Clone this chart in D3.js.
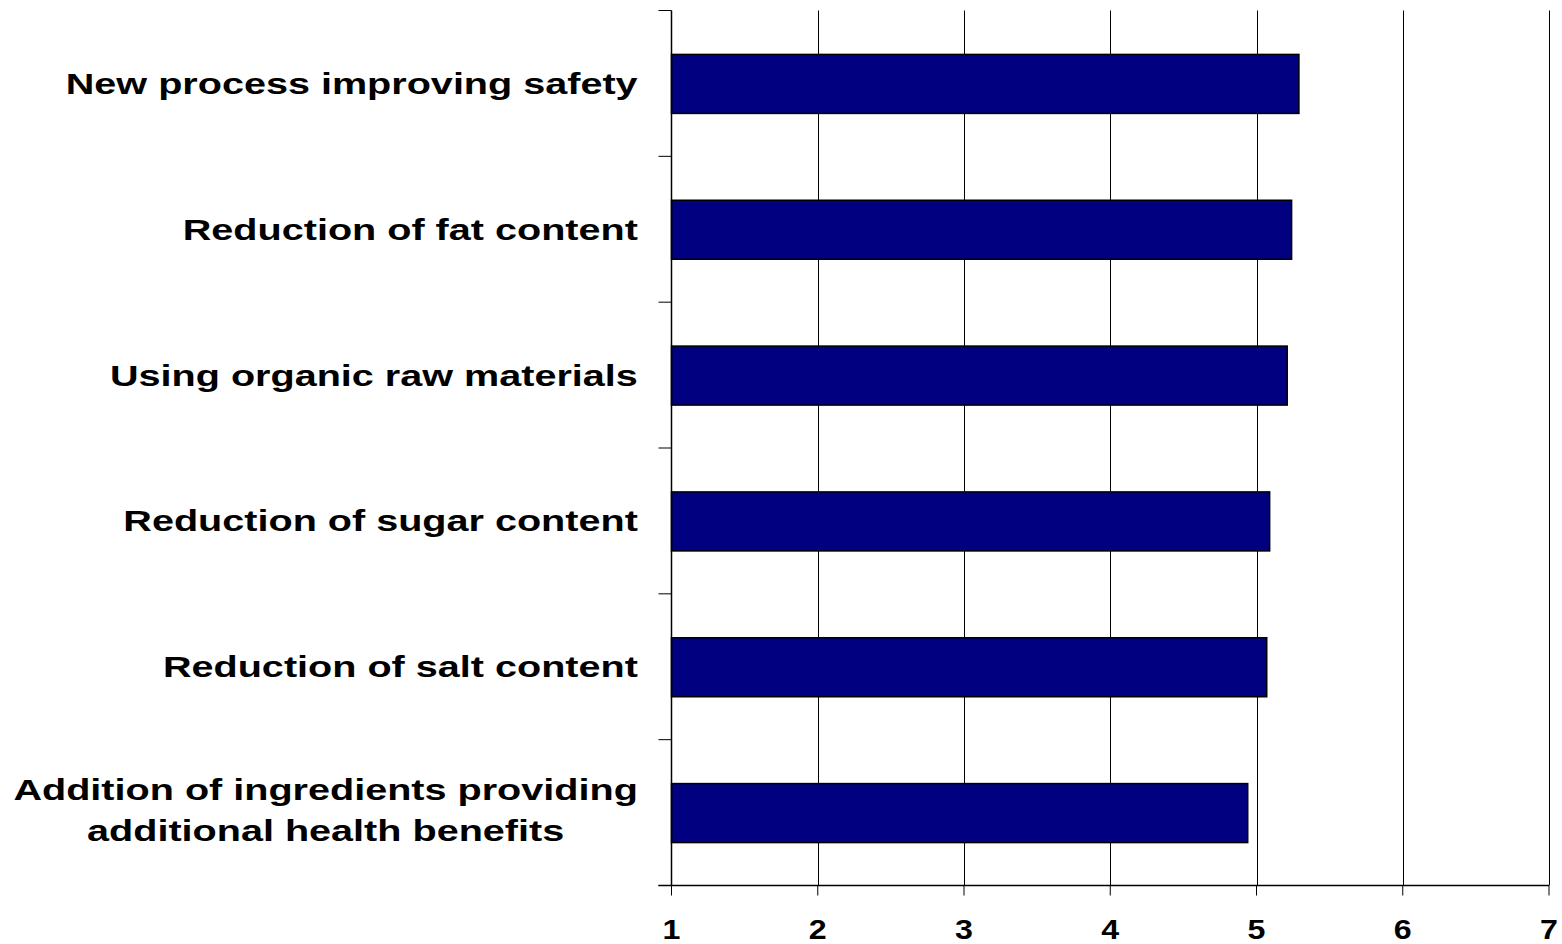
<!DOCTYPE html>
<html>
<head>
<meta charset="utf-8">
<script src="https://cdn.jsdelivr.net/npm/d3@7"></script>
<style>
  html, body { margin: 0; padding: 0; background: #fff; }
  svg { display: block; }
  text { font-family: "Liberation Sans", Arial, sans-serif; font-weight: bold; fill: #000; }
</style>
</head>
<body>
<svg id="chart" width="1562" height="944"></svg>
<script>
const categories = [
  ["New process improving safety"],
  ["Reduction of fat content"],
  ["Using organic raw materials"],
  ["Reduction of sugar content"],
  ["Reduction of salt content"],
  ["Addition of ingredients providing", "additional health benefits"]
];
const values = [5.29, 5.24, 5.21, 5.09, 5.07, 4.94];
const xTicks = [1, 2, 3, 4, 5, 6, 7];

(function () {
const svg = d3.select("#chart");
const pLeft = 671.5, pRight = 1549, pTop = 10.5, pBottom = 885.5;
const sx = 1.32; // horizontal stretch of label text in the reference

const x = d3.scaleLinear().domain([1, 7]).range([pLeft, pRight]);
const yOuter = d3.scaleBand().domain(d3.range(categories.length)).range([pTop, pBottom]);

// gridlines
svg.append("g").selectAll("line").data(xTicks.slice(1)).join("line")
  .attr("x1", d => Math.round(x(d)) + 0.5).attr("x2", d => Math.round(x(d)) + 0.5)
  .attr("y1", pTop).attr("y2", pBottom)
  .attr("stroke", "#000").attr("stroke-width", 1);

// bars
svg.append("g").selectAll("rect").data(values).join("rect")
  .attr("x", x(1))
  .attr("y", (d, i) => yOuter(i) + yOuter.bandwidth() / 2 - 29)
  .attr("width", d => x(d) - x(1))
  .attr("height", 59)
  .attr("fill", "#000080")
  .attr("stroke", "#000").attr("stroke-width", 1.5);

// y axis line and boundary ticks
svg.append("line").attr("x1", pLeft).attr("x2", pLeft).attr("y1", pTop).attr("y2", pBottom)
  .attr("stroke", "#000").attr("stroke-width", 1.5);
const boundaries = d3.range(categories.length + 1).map(i => pTop + i * yOuter.step());
svg.append("g").selectAll("line").data(boundaries).join("line")
  .attr("x1", pLeft - 13).attr("x2", pLeft).attr("y1", d => d).attr("y2", d => d)
  .attr("stroke", "#000").attr("stroke-width", 1);

// x axis
svg.append("line").attr("x1", pLeft - 13).attr("x2", pRight).attr("y1", pBottom).attr("y2", pBottom)
  .attr("stroke", "#000").attr("stroke-width", 1.5);
svg.append("g").selectAll("line").data(xTicks).join("line")
  .attr("x1", d => x(d)).attr("x2", d => x(d)).attr("y1", pBottom).attr("y2", pBottom + 10)
  .attr("stroke", "#000").attr("stroke-width", 1);
svg.append("g").selectAll("text").data(xTicks).join("text")
  .attr("transform", d => `translate(${x(d)},939) scale(1.15,1)`)
  .attr("text-anchor", "middle").style("font-size", "28px")
  .text(d => d);

// category labels
const labelG = svg.append("g");
categories.forEach((lines, i) => {
  const cy = yOuter(i) + yOuter.bandwidth() / 2;
  const t = labelG.append("text").style("font-size", "30px").attr("text-anchor", "middle");
  const lh = 41;
  const n = lines.length;
  lines.forEach((ln, j) => {
    t.append("tspan").attr("x", 0).attr("y", cy + 10.5 + (j - (n - 1) / 2) * lh - (n > 1 ? 3 : 0)).text(ln);
  });
  const w = t.node().getBBox().width;
  t.attr("transform", `translate(${638 - sx * w / 2},0) scale(${sx},1)`);
});
})();
</script>
</body>
</html>
